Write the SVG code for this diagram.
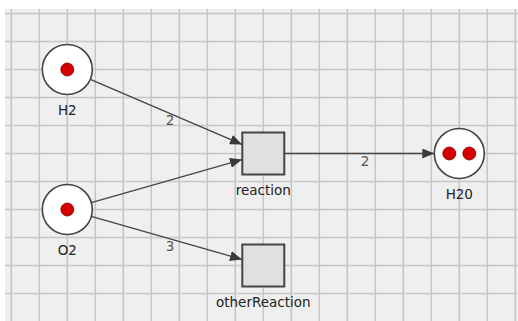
<svg xmlns="http://www.w3.org/2000/svg" width="518" height="321" viewBox="0 0 518 321">
<defs>
<marker id="arr" markerUnits="userSpaceOnUse" markerWidth="13" markerHeight="10" refX="12" refY="5" orient="auto">
<path d="M0,0 L12,5 L0,10 z" fill="#3a3a3a"/>
</marker>
</defs>
<style>
.grid{stroke:#c6c6c6;stroke-width:1.6;fill:none}
.place{fill:#ffffff;stroke:#444444;stroke-width:1.6}
.token{fill:#d40000;stroke:#8a0000;stroke-width:0.8}
.trans{fill:#e0e0e0;stroke:#444444;stroke-width:2}
.arc{stroke:#444444;stroke-width:1.3;fill:none;marker-end:url(#arr)}
.lbl{font-family:"DejaVu Sans",sans-serif;font-size:13.5px;fill:#222222;text-anchor:middle}
.w{font-family:"DejaVu Sans",sans-serif;font-size:13.5px;fill:#555555;text-anchor:middle}
</style>
<rect x="0" y="0" width="518" height="321" fill="#ffffff"/>
<rect x="5" y="9" width="513" height="312" fill="#efefef"/>
<path class="grid" d="M11.3,9V321M39.3,9V321M67.3,9V321M95.3,9V321M123.3,9V321M151.3,9V321M179.3,9V321M207.3,9V321M235.3,9V321M263.3,9V321M291.3,9V321M319.3,9V321M347.3,9V321M375.3,9V321M403.3,9V321M431.3,9V321M459.3,9V321M487.3,9V321M515.3,9V321M5,13.5H518M5,41.5H518M5,69.5H518M5,97.5H518M5,125.5H518M5,153.5H518M5,181.5H518M5,209.5H518M5,237.5H518M5,265.5H518M5,293.5H518"/>
<g id="connectors">
<line class="arc" x1="90.3" y1="79.3" x2="242" y2="144.4"/>
<line class="arc" x1="91.3" y1="202.6" x2="242" y2="159.6"/>
<line class="arc" x1="91.3" y1="216.4" x2="242" y2="259.4"/>
<line class="arc" x1="284.3" y1="153.5" x2="434.3" y2="153.5"/>
<text class="w" x="170" y="125">2</text>
<text class="w" x="170" y="251">3</text>
<text class="w" x="365" y="166">2</text>
</g>
<g id="H2">
<circle class="place" cx="67.3" cy="69.5" r="25"/>
<circle class="token" cx="67.3" cy="69.5" r="6.5"/>
<text class="lbl" x="67.3" y="115">H2</text>
</g>
<g id="O2">
<circle class="place" cx="67.3" cy="209.5" r="25"/>
<circle class="token" cx="67.3" cy="209.5" r="6.5"/>
<text class="lbl" x="67.3" y="255">O2</text>
</g>
<g id="H20">
<circle class="place" cx="459.3" cy="153.5" r="25"/>
<circle class="token" cx="449.3" cy="153.5" r="6.5"/>
<circle class="token" cx="469.3" cy="153.5" r="6.5"/>
<text class="lbl" x="459.3" y="199">H20</text>
</g>
<g id="reaction">
<rect class="trans" x="242.3" y="132.5" width="42" height="42"/>
<text class="lbl" x="263.3" y="195">reaction</text>
</g>
<g id="otherReaction">
<rect class="trans" x="242.3" y="244.5" width="42" height="42"/>
<text class="lbl" x="263.3" y="307">otherReaction</text>
</g>
</svg>
